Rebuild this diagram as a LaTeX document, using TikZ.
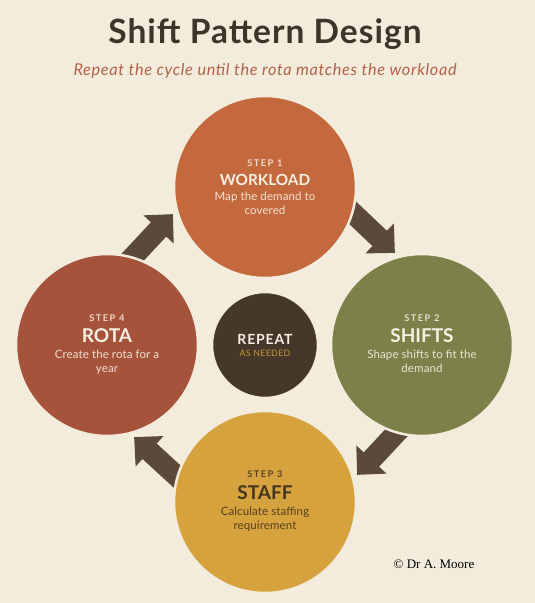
\documentclass[tikz,border=0pt]{standalone}
\usepackage{fontspec}
\setmainfont{Lato}
\newfontfamily\credfont{Liberation Serif}
\usetikzlibrary{arrows.meta}

\definecolor{cream}{HTML}{F3EBDB}
\definecolor{ink}{HTML}{3E3428}
\definecolor{terra}{HTML}{B3624A}
\definecolor{workc}{HTML}{C4693D}
\definecolor{shiftc}{HTML}{7B8149}
\definecolor{staffc}{HTML}{D6A23D}
\definecolor{rotac}{HTML}{A6533B}
\definecolor{hubc}{HTML}{45382A}
\definecolor{arrowc}{HTML}{5B4A3B}
\definecolor{paper}{HTML}{F7EFE2}
\definecolor{dark}{HTML}{45351F}
\definecolor{gold}{HTML}{C8953A}

\pgfdeclarelayer{back}
\pgfdeclarelayer{mid}
\pgfsetlayers{back,mid,main}

\tikzset{
  stage/.style={circle, minimum size=182pt, inner sep=0pt, draw=cream, line width=2.5pt},
  tag/.style={anchor=base, text opacity=0.85, font=\bfseries\fontsize{9.3}{11}\selectfont\addfontfeatures{LetterSpace=15}},
  head/.style={anchor=base, font=\bfseries\fontsize{19}{22}\selectfont},
  note/.style={anchor=base, text opacity=0.9, font=\fontsize{11.5}{13}\selectfont\addfontfeatures{LetterSpace=1}},
  flow/.style={arrowc, line width=21pt, -{Triangle[length=21pt,width=40pt]}},
}

\begin{document}
\begin{tikzpicture}[x=1pt,y=1pt]
    \begin{pgfonlayer}{back}
        \fill[cream] (0,0) rectangle (535,603);
    \end{pgfonlayer}
    \node[anchor=base, ink, font=\bfseries\fontsize{33.5}{40}\selectfont\addfontfeatures{LetterSpace=3}] (title) at (265,559) {Shift Pattern Design};
    \node[anchor=base, terra, font=\itshape\fontsize{16.3}{19}\selectfont\addfontfeatures{LetterSpace=4}] (sub) at (265,527) {Repeat the cycle until the rota matches the workload};
    \node[stage, fill=workc] (wl) at (265,416) {};
    \node[stage, fill=shiftc] (sh) at (422,258) {};
    \node[stage, fill=staffc] (st) at (265,101) {};
    \node[stage, fill=rotac] (ro) at (107,258) {};
    \node[stage, fill=hubc, minimum size=106pt] (rp) at (265,258) {};
    \begin{pgfonlayer}{mid}
        \foreach \a/\b/\r in {wl/sh/0, sh/st/90, st/ro/180, ro/wl/270}
            \draw[flow] ([shift={(-8.7-\r:73)}]\a.center) -- ([shift={(106.4-\r:96)}]\b.center);
    \end{pgfonlayer}
    \node[tag, paper] (wl1) at ([yshift=20.3pt]wl.center) {STEP 1};
    \node[head, paper, font=\bfseries\fontsize{15.3}{18}\selectfont] (wl2) at ([yshift=1pt]wl.center) {WORKLOAD};
    \node[note, paper] (wl3) at ([yshift=-13.7pt]wl.center) {Map the demand to};
    \node[note, paper] (wl4) at ([yshift=-28pt]wl.center) {covered};
    \node[tag, paper] (sh1) at ([yshift=23.5pt]sh.center) {STEP 2};
    \node[head, paper] (sh2) at ([yshift=2pt]sh.center) {SHIFTS};
    \node[note, paper] (sh3) at ([yshift=-14pt]sh.center) {Shape shifts to fit the};
    \node[note, paper] (sh4) at ([yshift=-28pt]sh.center) {demand};
    \node[tag, dark] (st1) at ([yshift=24pt]st.center) {STEP 3};
    \node[head, dark] (st2) at ([yshift=2.5pt]st.center) {STAFF};
    \node[note, dark] (st3) at ([yshift=-14pt]st.center) {Calculate staffing};
    \node[note, dark] (st4) at ([yshift=-28pt]st.center) {requirement};
    \node[tag, paper] (ro1) at ([yshift=23.5pt]ro.center) {STEP 4};
    \node[head, paper] (ro2) at ([yshift=2pt]ro.center) {ROTA};
    \node[note, paper] (ro3) at ([yshift=-14pt]ro.center) {Create the rota for a};
    \node[note, paper] (ro4) at ([yshift=-28pt]ro.center) {year};
    \node[anchor=base, paper, font=\bfseries\fontsize{14}{17}\selectfont\addfontfeatures{LetterSpace=6}] (rp1) at ([yshift=0.7pt]rp.center) {REPEAT};
    \node[anchor=base, gold, font=\fontsize{8.8}{10}\selectfont\addfontfeatures{LetterSpace=4}] (rp2) at ([yshift=-11.7pt]rp.center) {AS NEEDED};
    \node[anchor=base, black, font=\credfont\fontsize{13}{15}\selectfont] (cred) at (434,34.7) {© Dr A. Moore};
\end{tikzpicture}
\end{document}
